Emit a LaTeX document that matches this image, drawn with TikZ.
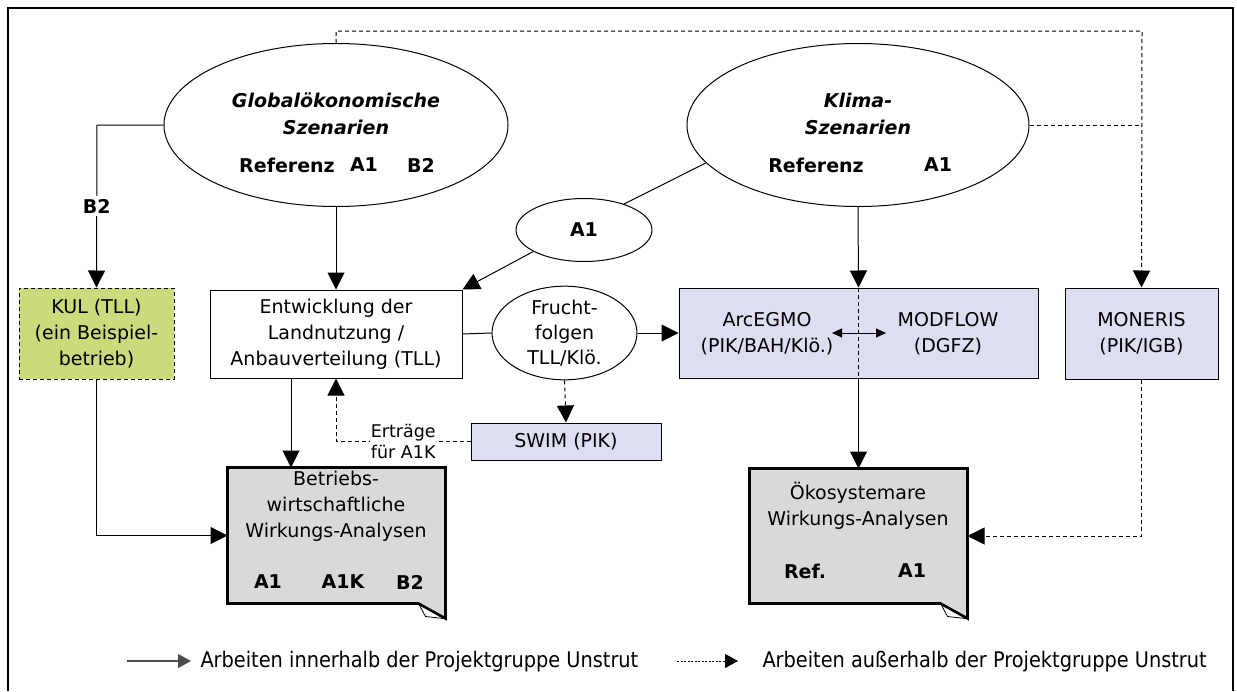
\documentclass[tikz,border=0pt]{standalone}
\usepackage{fontspec}
\setmainfont{DejaVu Sans}
\newfontfamily\legfont{DejaVu Sans Condensed}
\usetikzlibrary{arrows.meta,shapes.geometric,calc}
\definecolor{kulgreen}{HTML}{CADB7C}
\definecolor{lav}{HTML}{DEDEF2}
\definecolor{docgray}{HTML}{D9D9D9}
\tikzset{
  big/.style={-{Triangle[width=17pt,length=17pt]}},
  dsh/.style={dash pattern=on 4pt off 3pt},
  oval/.style={ellipse,draw,line width=1pt,inner sep=0pt},
  plainbox/.style={rectangle,draw,line width=1pt,inner sep=0pt,align=center,font=\fontsize{19}{26}\selectfont},
  docnode/.style={rectangle,inner sep=0pt},
  docline/.style={line width=2.6pt,line join=miter},
  txt/.style={inner sep=0pt,font=\fontsize{19}{26}\selectfont},
  btxt/.style={inner sep=0pt,font=\fontsize{19}{26}\selectfont\bfseries},
  itxt/.style={inner sep=0pt,font=\fontsize{19}{26}\selectfont\bfseries\itshape},
  leg/.style={inner sep=0pt,anchor=west,font=\legfont\fontsize{21.5}{24}\selectfont},
}
\begin{document}
\begin{tikzpicture}[x=1pt,y=-1pt,line width=1pt]
\useasboundingbox (0,0) rectangle (1237,691);
% frame
\draw[line width=2.4pt] (8,691) -- (8,8) -- (1233,8) -- (1233,691);

% ellipses
\node[oval,minimum width=344pt,minimum height=163pt] (glob) at (336,125) {};
\node[itxt] (globt1) at (336,100) {Globalökonomische};
\node[itxt] (globt2) at (336,127) {Szenarien};
\node[btxt] (globr) at (287,165) {Referenz};
\node[btxt] (globa) at (364,165) {A1};
\node[btxt] (globb) at (421,165) {B2};

\node[oval,minimum width=342pt,minimum height=163pt] (klima) at (858,125) {};
\node[itxt] (klt1) at (858,100) {Klima-};
\node[itxt] (klt2) at (858,127) {Szenarien};
\node[btxt] (klr) at (816,165) {Referenz};
\node[btxt] (kla) at (938,165) {A1};

\node[oval,minimum width=136pt,minimum height=63pt,font=\fontsize{19}{26}\selectfont\bfseries] (a1) at (584,230) {A1};

% boxes
\node[plainbox,fill=kulgreen,dsh,minimum width=155pt,minimum height=91pt] (kul) at (96.5,333.5) {KUL (TLL)\\(ein Beispiel-\\betrieb)};
\node[plainbox,fill=white,minimum width=252pt,minimum height=88pt] (ent) at (336,334) {Entwicklung der\\Landnutzung /\\Anbauverteilung (TLL)};
\node[oval,minimum width=145pt,minimum height=90pt,align=center,font=\fontsize{19}{25}\selectfont] (fru) at (564.5,333) {Frucht-\\folgen\\TLL/Klö.};
\node[plainbox,fill=lav,minimum width=359pt,minimum height=90pt] (arc) at (858.5,333) {};
\node[txt,align=center] (arct) at (767,334) {ArcEGMO\\(PIK/BAH/Klö.)};
\node[txt,align=center] (modt) at (948,334) {MODFLOW\\(DGFZ)};
\node[plainbox,fill=lav,minimum width=153pt,minimum height=91pt] (mon) at (1141.5,333.5) {MONERIS\\(PIK/IGB)};
\node[plainbox,fill=lav,minimum width=190pt,minimum height=37pt] (swim) at (566,441.5) {SWIM (PIK)};

% document boxes
\node[docnode,minimum width=217pt,minimum height=135pt] (betr) at (336.5,535.5) {};
\fill[docgray] (betr.north west) -- (betr.north east) -- ([yshift=-15pt]betr.south east) -- ([xshift=-27pt]betr.south east) -- (betr.south west) -- cycle;
\fill[white] ([yshift=-15pt]betr.south east) -- ([xshift=-27pt]betr.south east) -- ([xshift=-20pt,yshift=-13pt]betr.south east) -- cycle;
\draw[docline] (betr.north west) -- (betr.north east) -- ([yshift=-15pt]betr.south east) -- ([xshift=-27pt]betr.south east) -- (betr.south west) -- cycle;
\draw[line width=0.8pt] ([xshift=-27pt]betr.south east) -- ([xshift=-20pt,yshift=-13pt]betr.south east) -- ([xshift=-2pt,yshift=-15pt]betr.south east);
\node[txt,align=center] (betrt) at (336,506) {Betriebs-\\wirtschaftliche\\Wirkungs-Analysen};
\node[btxt] (betra) at (268,582) {A1};
\node[btxt] (betrk) at (343,582) {A1K};
\node[btxt] (betrb) at (410,582) {B2};

\node[docnode,minimum width=217pt,minimum height=134pt] (oko) at (858.5,536) {};
\fill[docgray] (oko.north west) -- (oko.north east) -- ([yshift=-15pt]oko.south east) -- ([xshift=-27pt]oko.south east) -- (oko.south west) -- cycle;
\fill[white] ([yshift=-15pt]oko.south east) -- ([xshift=-27pt]oko.south east) -- ([xshift=-20pt,yshift=-13pt]oko.south east) -- cycle;
\draw[docline] (oko.north west) -- (oko.north east) -- ([yshift=-15pt]oko.south east) -- ([xshift=-27pt]oko.south east) -- (oko.south west) -- cycle;
\draw[line width=0.8pt] ([xshift=-27pt]oko.south east) -- ([xshift=-20pt,yshift=-13pt]oko.south east) -- ([xshift=-2pt,yshift=-15pt]oko.south east);
\node[txt,align=center] (okot) at (858,506) {Ökosystemare\\Wirkungs-Analysen};
\node[btxt] (okor) at (805,571) {Ref.};
\node[btxt] (okoa) at (912,571) {A1};

% connectors
\coordinate (b2c) at (97,125);
\draw[big] (glob.west) -- (b2c) -- (kul.north) node[pos=0.5,fill=white,inner sep=3pt,font=\fontsize{19}{26}\selectfont\bfseries] (b2l) {B2};
\draw[big] (glob.south) -- (ent.north);
\draw (klima.194) -- (a1.33);
\draw[big] (a1.203) -- (ent.north east);
\draw[big] (klima.south) -- (arc.north);
\draw (ent.east) -- (fru.west);
\draw[big] (fru.east) -- (arc.west);
\draw[big,dsh] (fru.south) -- (swim.north);
\coordinate (erc) at (336,441.5);
\draw[big,dsh] (swim.west) -- (erc) node[pos=0.5,fill=white,inner sep=1pt,align=center,font=\fontsize{17.5}{21}\selectfont] (ertr) {Erträge\\für A1K} -- (ent.south);
\coordinate (ents) at (291,378);
\draw[big] (ents) -- (ents |- betr.north);
\draw[big] (kul.south) |- (betr.west);
\draw[dsh] (arc.north) -- (arc.south);
\draw[big] (arc.south) -- (oko.north);
\coordinate (dl) at (832,333);
\coordinate (dr) at (886,333);
\draw[{Triangle[width=9pt,length=10pt]}-{Triangle[width=9pt,length=10pt]}] (dl) -- (dr);
\coordinate (topl) at (336,31);
\coordinate (topr) at (1142,31);
\draw[dsh,big] (glob.north) -- (topl) -- (topr) -- (mon.north);
\draw[dsh] (klima.east) -- (klima.east -| mon.north);
\draw[dsh,big] (mon.south) |- (oko.east);

% legend
\coordinate (l1a) at (127,661);
\coordinate (l1b) at (191,661);
\draw[-{Triangle[width=14pt,length=13pt]},line width=1.2pt,black!70] (l1a) -- (l1b);
\node[leg] (leg1) at (200,662) {Arbeiten innerhalb der Projektgruppe Unstrut};
\coordinate (l2a) at (677,661);
\coordinate (l2b) at (738,661);
\draw[-{Triangle[width=14pt,length=13pt]},dash pattern=on 2pt off 1.5pt] (l2a) -- (l2b);
\node[leg] (leg2) at (762,662) {Arbeiten außerhalb der Projektgruppe Unstrut};
\end{tikzpicture}
\end{document}
